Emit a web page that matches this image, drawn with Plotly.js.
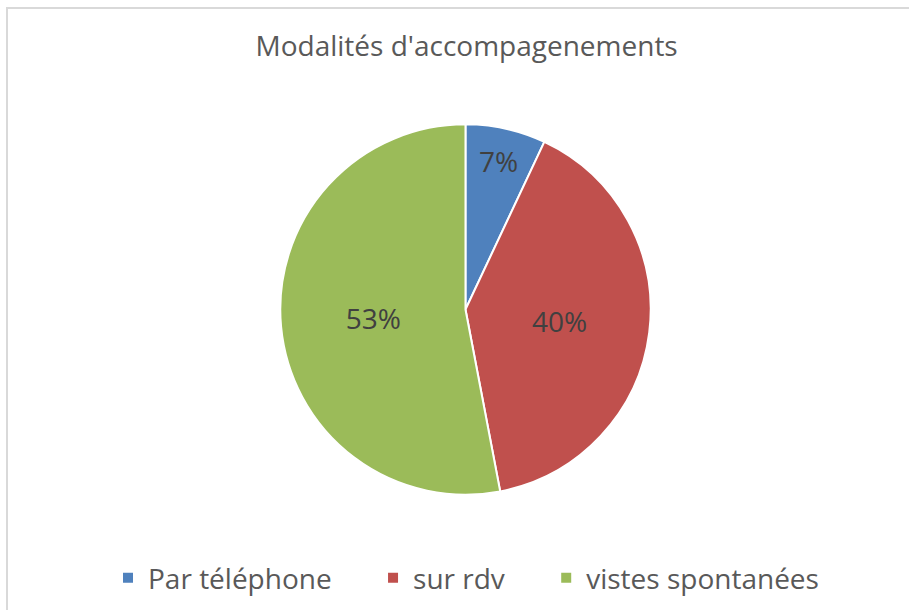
<!DOCTYPE html>
<html>
<head>
<meta charset="utf-8">
<script src="https://cdn.plot.ly/plotly-3.0.1.min.js"></script>
<style>
  body { margin: 0; background: #fff; }
  #frame {
    position: absolute; left: 6px; top: 7px;
    width: 903px; height: 603px;
    border-top: 2px solid #d9d9d9; border-left: 2px solid #d9d9d9;
  }
  #chart { width: 901px; height: 601px; }
</style>
</head>
<body>
<div id="frame"><div id="chart"></div></div>
<script>
// Data
const chartTitle = "Modalités d'accompagenements";
const labels = ['Par téléphone', 'sur rdv', 'vistes spontanées'];
const values = [7, 40, 53];
const colors = ['#4F81BD', '#C0504D', '#9BBB59'];

// extra room after each legend entry except the last (Excel spaces them wider)
const pad = '\u00a0'.repeat(5);
const legendNames = labels.map((l, i) => i < labels.length - 1 ? l + pad : l);

const trace = {
    type: 'pie',
    labels: legendNames,
    values: values,
    sort: false,
    direction: 'clockwise',
    rotation: 0,
    marker: {colors: colors, line: {color: '#ffffff', width: 2}},
    textinfo: 'percent',
    texttemplate: '%{percent:.0%}',
    textposition: 'inside',
    insidetextorientation: 'horizontal',
    textfont: {family: 'Open Sans, sans-serif', size: 28, color: '#404040'},
    hoverinfo: 'label+percent',
    domain: {x: [0.3022, 0.7133], y: [0.1917, 0.8083]}
};

const layout = {
    width: 901,
    height: 601,
    margin: {t: 0, r: 0, b: 0, l: 0},
    paper_bgcolor: '#ffffff',
    title: {
        text: chartTitle,
        font: {family: 'Open Sans, sans-serif', size: 28, color: '#595959'},
        x: 0.509, xanchor: 'center',
        y: 0.938, yref: 'container', yanchor: 'middle'
    },
    showlegend: true,
    legend: {
        orientation: 'h',
        x: 0.111, xanchor: 'left',
        y: 0.053, yanchor: 'middle',
        font: {family: 'Open Sans, sans-serif', size: 28, color: '#595959'},
        itemwidth: 30,
        tracegroupgap: 0
    }
};

Plotly.newPlot('chart', [trace], layout, {displayModeBar: false});
</script>
</body>
</html>
